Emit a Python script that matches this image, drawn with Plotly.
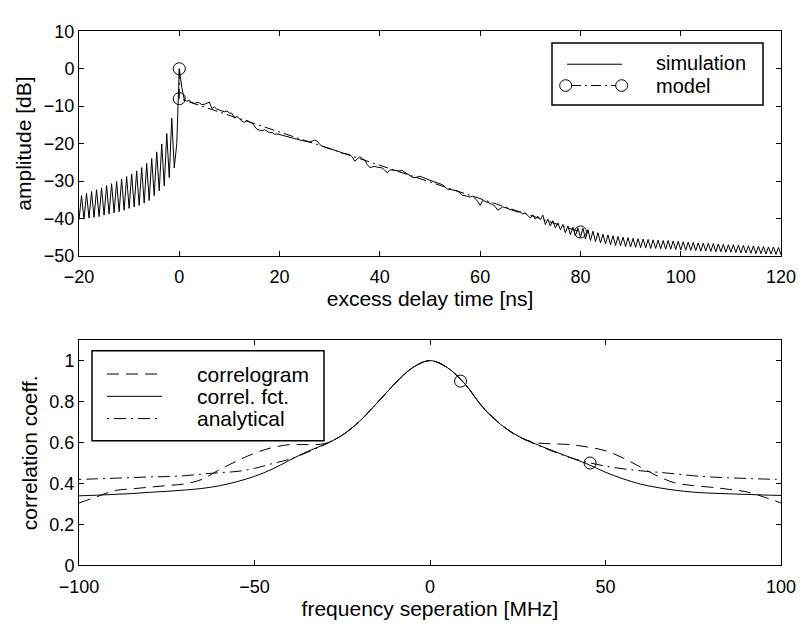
import numpy as np
import plotly.graph_objects as go

# ---------------- data: top panel (power delay profile) ----------------
delay_start, delay_step = -20.0, 0.5
sim_db = [
    -40.3, -33.9, -40.2, -33.3, -39.9, -32.8, -39.7, -32.3, -39.5, -31.8,
    -39.1, -31.2, -38.8, -30.7, -38.5, -30.1, -38.2, -29.5, -37.8, -28.8,
    -37.3, -28.1, -36.9, -27.3, -36.5, -26.4, -35.9, -25.3, -35.2, -24.0,
    -33.9, -22.2, -32.6, -20.1, -31.3, -17.3, -29.1, -13.2, -26.5, -20.0,
    0.0, -5.0, -8.3, -8.7, -8.4, -9.0, -9.3, -9.0, -9.1, -9.6,
    -9.5, -9.2, -8.9, -10.6, -10.2, -10.8, -11.0, -11.2, -11.5, -11.3,
    -11.8, -11.9, -13.2, -12.7, -13.3, -14.0, -14.3, -13.8, -14.2, -14.5,
    -15.3, -16.2, -16.4, -16.6, -16.3, -16.8, -17.1, -17.0, -17.5, -17.4,
    -17.6, -17.8, -17.9, -18.2, -18.4, -18.6, -18.8, -18.9, -19.0, -19.2,
    -19.3, -19.5, -19.6, -19.3, -19.1, -19.3, -20.2, -20.7, -20.9, -21.2,
    -21.4, -21.5, -21.7, -21.8, -22.2, -22.6, -22.8, -22.8, -22.9, -23.6,
    -24.7, -24.0, -23.5, -24.0, -24.4, -25.6, -26.4, -26.2, -26.1, -26.3,
    -26.4, -26.5, -27.2, -27.8, -27.0, -27.1, -27.3, -27.4, -27.3, -27.2,
    -27.6, -28.1, -28.5, -29.0, -29.1, -28.9, -28.7, -29.0, -29.3, -29.5,
    -29.8, -30.1, -30.3, -30.5, -30.7, -31.0, -31.5, -32.2, -32.2, -32.3,
    -32.5, -32.7, -33.2, -33.8, -33.9, -34.1, -34.3, -34.0, -34.6, -35.4,
    -36.5, -35.2, -35.4, -35.8, -36.0, -36.3, -36.8, -37.8, -37.3, -36.9,
    -37.1, -37.3, -37.6, -37.8, -38.0, -38.3, -38.2, -38.8, -38.5, -39.3,
    -39.9, -39.0, -40.2, -39.4, -40.3, -39.1, -41.6, -40.2, -42.0, -40.6,
    -42.5, -41.2, -43.0, -41.6, -43.8, -42.0, -44.3, -42.3, -44.6, -42.5,
    -45.0, -42.6, -45.5, -43.0, -45.9, -43.4, -46.2, -43.8, -46.5, -44.2,
    -46.8, -44.4, -47.0, -44.6, -47.2, -44.8, -47.3, -45.0, -47.5, -45.1,
    -47.6, -45.3, -47.7, -45.4, -47.8, -45.5, -47.9, -45.6, -48.0, -45.7,
    -48.0, -45.8, -48.1, -45.9, -48.2, -45.9, -48.2, -46.0, -48.3, -46.1,
    -48.4, -46.2, -48.5, -46.3, -48.5, -46.4, -48.6, -46.5, -48.7, -46.6,
    -48.7, -46.6, -48.8, -46.7, -48.9, -46.8, -48.9, -46.9, -49.0, -47.0,
    -49.0, -47.0, -49.1, -47.1, -49.2, -47.2, -49.2, -47.3, -49.3, -47.3,
    -49.4, -47.4, -49.4, -47.5, -49.5, -47.6, -49.5, -47.6, -49.6, -47.7,
    -49.7,
]
sim_t = delay_start + delay_step * np.arange(len(sim_db))

model_t = [0, 0, 80]
model_db = [0, -8, -43.6]

# ---------------- data: bottom panel (frequency correlation) ----------------
freq = [-100, -95, -90, -85, -80, -75, -70, -65, -60, -55, -50, -45, -40, -35,
        -30, -25, -20, -15, -10, -5, 0, 5, 10, 15, 20, 25, 30, 35, 40, 45, 50,
        55, 60, 65, 70, 75, 80, 85, 90, 95, 100]
correlogram = [0.305, 0.335, 0.365, 0.374, 0.382, 0.390, 0.398, 0.420, 0.468,
               0.510, 0.548, 0.575, 0.590, 0.590, 0.595, 0.636, 0.705, 0.795,
               0.888, 0.965, 1.000, 0.965, 0.885, 0.775, 0.692, 0.630, 0.600,
               0.594, 0.590, 0.578, 0.560, 0.525, 0.480, 0.435, 0.402, 0.390,
               0.382, 0.372, 0.360, 0.335, 0.305]
correl_fct = [0.340, 0.343, 0.347, 0.351, 0.357, 0.362, 0.368, 0.376, 0.389,
              0.409, 0.435, 0.470, 0.514, 0.556, 0.591, 0.636, 0.705, 0.795,
              0.888, 0.965, 1.000, 0.965, 0.885, 0.772, 0.690, 0.633, 0.594,
              0.560, 0.527, 0.494, 0.455, 0.423, 0.397, 0.380, 0.367, 0.358,
              0.353, 0.350, 0.347, 0.344, 0.342]
analytical = [0.420, 0.423, 0.426, 0.429, 0.432, 0.434, 0.438, 0.446, 0.453,
              0.459, 0.474, 0.497, 0.519, 0.552, 0.590, 0.636, 0.705, 0.795,
              0.888, 0.965, 1.000, 0.965, 0.885, 0.774, 0.691, 0.632, 0.592,
              0.557, 0.526, 0.503, 0.485, 0.472, 0.462, 0.455, 0.447, 0.438,
              0.432, 0.428, 0.425, 0.422, 0.420]
marker_f = [8.7, 45.6]
marker_c = [0.90, 0.50]

# ---------------- figure ----------------
FONT = "Liberation Sans, Arial, Helvetica, sans-serif"
W, H = 803, 629
PL, PR = 79, 781          # plot area left/right pixel
TXT = 21


def px(x):
    return (x - PL) / (PR - PL)


def py(y):
    return 1 - y / H


fig = go.Figure()

fig.add_trace(go.Scatter(x=sim_t, y=sim_db, mode="lines",
                         line=dict(color="black", width=1),
                         xaxis="x", yaxis="y", showlegend=False))
fig.add_trace(go.Scatter(x=model_t, y=model_db, mode="lines+markers",
                         line=dict(color="black", width=1, dash="10px,4px,2px,4px"),
                         marker=dict(symbol="circle-open", size=12,
                                     color="black", line=dict(width=1)),
                         xaxis="x", yaxis="y", showlegend=False))

fig.add_trace(go.Scatter(x=freq, y=correlogram, mode="lines", line_shape="spline",
                         line=dict(color="black", width=1, dash="12px,7px"),
                         xaxis="x2", yaxis="y2", showlegend=False))
fig.add_trace(go.Scatter(x=freq, y=correl_fct, mode="lines", line_shape="spline",
                         line=dict(color="black", width=1),
                         xaxis="x2", yaxis="y2", showlegend=False))
fig.add_trace(go.Scatter(x=freq, y=analytical, mode="lines", line_shape="spline",
                         line=dict(color="black", width=1, dash="2px,5px,12px,5px"),
                         xaxis="x2", yaxis="y2", showlegend=False))
fig.add_trace(go.Scatter(x=marker_f, y=marker_c, mode="markers",
                         marker=dict(symbol="circle-open", size=12,
                                     color="black", line=dict(width=1)),
                         xaxis="x2", yaxis="y2", showlegend=False))

axis_common = dict(showline=True, linecolor="black", linewidth=1, mirror="ticks",
                   ticks="inside", ticklen=5, tickcolor="black", showgrid=False,
                   zeroline=False, tickfont=dict(family=FONT, size=18, color="black"))

fig.update_layout(
    width=W, height=H,
    margin=dict(l=PL, r=W - PR, t=0, b=0),
    paper_bgcolor="white", plot_bgcolor="white",
    font=dict(family=FONT, size=18, color="black"),
    xaxis=dict(domain=[0, 1], anchor="y", range=[-20, 120],
               tickvals=[-20, 0, 20, 40, 60, 80, 100, 120],
               ticklabelstandoff=4,
               title=dict(text="excess delay time [ns]", standoff=3,
                          font=dict(family=FONT, size=TXT)),
               **axis_common),
    yaxis=dict(domain=[py(254), py(22)], anchor="x", range=[-50, 10],
               tickvals=[-50, -40, -30, -20, -10, 0, 10],
               title=dict(text="amplitude [dB]", standoff=6,
                          font=dict(family=FONT, size=TXT)),
               **axis_common),
    xaxis2=dict(domain=[0, 1], anchor="y2", range=[-100, 100],
                tickvals=[-100, -50, 0, 50, 100],
                ticklabelstandoff=5,
                title=dict(text="frequency seperation [MHz]", standoff=5,
                           font=dict(family=FONT, size=TXT)),
                **axis_common),
    yaxis2=dict(domain=[py(573.7), py(341)], anchor="x2", range=[0, 1.1],
                tickvals=[0, 0.2, 0.4, 0.6, 0.8, 1],
                ticktext=["0", "0.2", "0.4", "0.6", "0.8", "1"],
                title=dict(text="correlation coeff.", standoff=6,
                           font=dict(family=FONT, size=TXT)),
                **axis_common),
)

shapes = []
annotations = []

# top legend
shapes.append(dict(type="rect", xref="paper", yref="paper",
                   x0=px(552), x1=px(763), y0=py(98), y1=py(34),
                   line=dict(color="black", width=1.5), fillcolor="white"))
shapes.append(dict(type="line", xref="paper", yref="paper",
                   x0=px(567), x1=px(622), y0=py(56), y1=py(56),
                   line=dict(color="black", width=1)))
shapes.append(dict(type="line", xref="paper", yref="paper",
                   x0=px(571), x1=px(616), y0=py(78), y1=py(78),
                   line=dict(color="black", width=1, dash="10px,4px,2px,4px")))
for cx in (565.7, 621.7):
    shapes.append(dict(type="circle", xref="paper", yref="paper",
                       x0=px(cx - 6), x1=px(cx + 6), y0=py(78 + 6), y1=py(78 - 6),
                       line=dict(color="black", width=1)))
for txt, yy in (("simulation", 55), ("model", 78)):
    annotations.append(dict(text=txt, xref="paper", yref="paper", x=px(655), y=py(yy),
                            xanchor="left", yanchor="middle", showarrow=False,
                            borderpad=0,
                            font=dict(family=FONT, size=20, color="black")))

# bottom legend
shapes.append(dict(type="rect", xref="paper", yref="paper",
                   x0=px(92), x1=px(324), y0=py(445), y1=py(352),
                   line=dict(color="black", width=1.5), fillcolor="white"))
for dash, yy in (("12px,7px", 376), ("solid", 399), ("2px,5px,12px,5px", 422)):
    shapes.append(dict(type="line", xref="paper", yref="paper",
                       x0=px(107), x1=px(162), y0=py(yy), y1=py(yy),
                       line=dict(color="black", width=1, dash=dash)))
for txt, yy in (("correlogram", 376), ("correl. fct.", 399), ("analytical", 422)):
    annotations.append(dict(text=txt, xref="paper", yref="paper", x=px(196), y=py(yy),
                            xanchor="left", yanchor="middle", showarrow=False,
                            borderpad=0,
                            font=dict(family=FONT, size=TXT, color="black")))

fig.update_layout(shapes=shapes, annotations=annotations)
fig.write_html("out.html")
